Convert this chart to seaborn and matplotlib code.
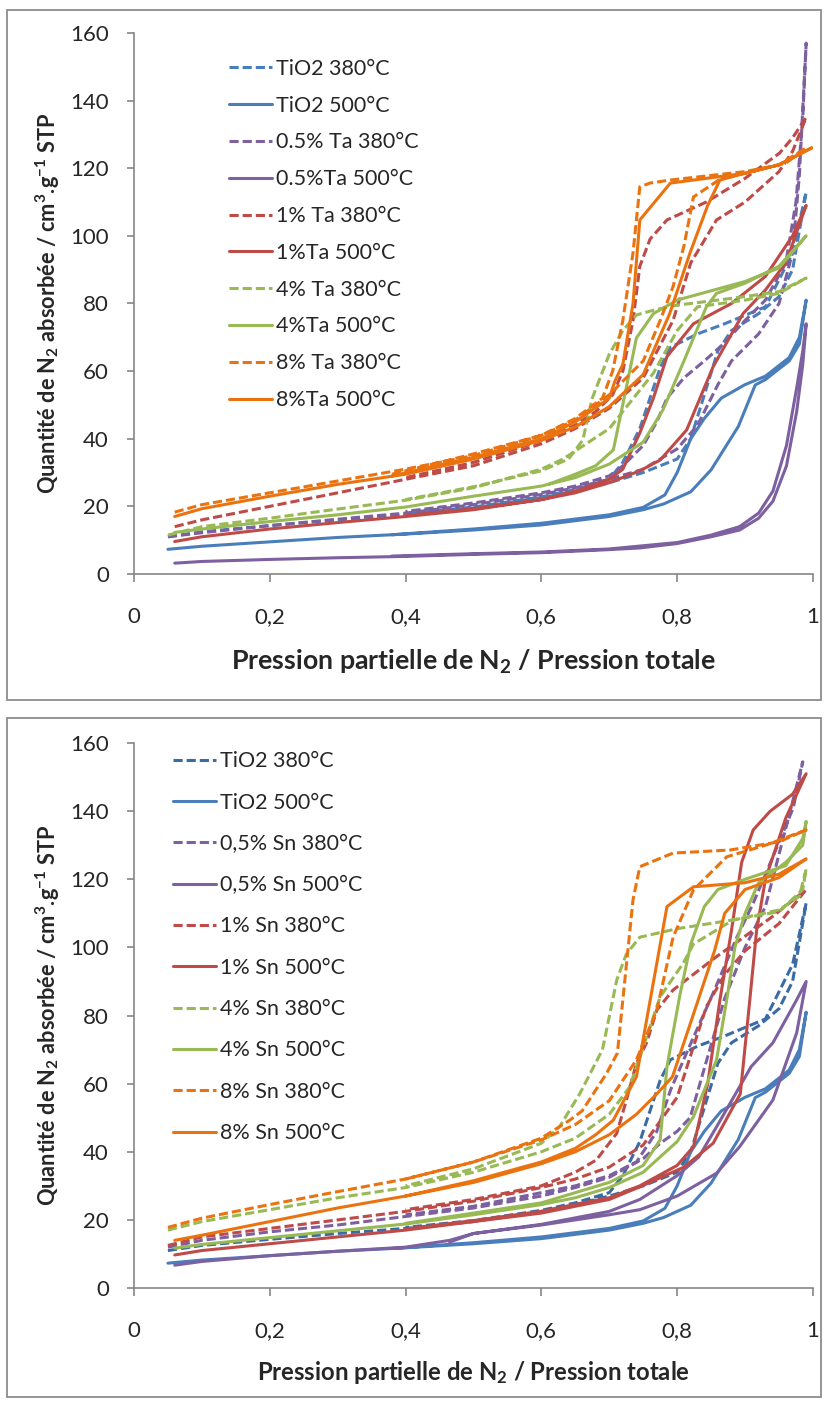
import matplotlib
matplotlib.use("Agg")
import matplotlib.pyplot as plt
from matplotlib.patches import Rectangle
import seaborn as sns

# ============ Data : TiO2 reference (same in both panels) ============
tio2_380_p = [0.05, 0.1, 0.2, 0.3, 0.4, 0.5, 0.6, 0.65, 0.7, 0.75, 0.8, 0.82, 0.84, 0.86, 0.88, 0.92, 0.95, 0.97, 0.99,
              0.97, 0.93, 0.87, 0.83, 0.79, 0.775, 0.76, 0.745, 0.72, 0.7, 0.65, 0.6, 0.5, 0.4]
tio2_380_v = [11, 12.5, 14.3, 16, 17.5, 19.5, 22.5, 24.5, 27, 30, 34, 40, 53, 66, 72, 77, 82, 90, 113,
              95, 79, 74, 71, 67, 61, 52, 43, 33, 28, 25, 22.8, 19.8, 17.8]
tio2_500_p = [0.05, 0.1, 0.2, 0.3, 0.4, 0.5, 0.6, 0.7, 0.75, 0.78, 0.82, 0.85, 0.89, 0.915, 0.93, 0.965, 0.98, 0.99,
              0.98, 0.965, 0.93, 0.9, 0.865, 0.84, 0.82, 0.8, 0.782, 0.75, 0.7, 0.6, 0.5, 0.38]
tio2_500_v = [7.3, 8.2, 9.5, 10.8, 11.8, 13, 14.5, 17, 19, 20.7, 24.3, 30.8, 43.6, 55.9, 57.5, 63, 68, 81,
              70, 64, 58.5, 56, 52, 46, 40, 30, 23.4, 19.7, 17.5, 15, 13.3, 11.6]

# ============ Data : Ta doped (top panel) ============
ta05_380_p = [0.05, 0.1, 0.2, 0.3, 0.4, 0.5, 0.6, 0.65, 0.7, 0.75, 0.8, 0.83, 0.86, 0.88, 0.92, 0.95, 0.97, 0.98, 0.99,
              0.985, 0.975, 0.96, 0.93, 0.9, 0.868, 0.84, 0.81, 0.785, 0.77, 0.75, 0.72, 0.7, 0.65, 0.6, 0.5, 0.4]
ta05_380_v = [11, 12.2, 14.3, 16.2, 18, 20.5, 23.5, 25.5, 28, 31, 37, 44, 56, 63, 71, 80, 95, 118, 157,
              135, 110, 92, 81, 75, 68, 63, 58, 52, 45, 38, 32, 29, 26, 24, 21, 18.5]
ta05_500_p = [0.06, 0.1, 0.2, 0.3, 0.4, 0.5, 0.6, 0.7, 0.745, 0.8, 0.85, 0.892, 0.92, 0.941, 0.961, 0.976, 0.985, 0.99,
              0.985, 0.976, 0.961, 0.941, 0.92, 0.892, 0.85, 0.8, 0.7, 0.6, 0.5, 0.38]
ta05_500_v = [3.2, 3.7, 4.3, 4.8, 5.2, 5.8, 6.3, 7.2, 7.7, 9, 11, 13, 16.5, 21.5, 32, 48, 62, 74,
              66, 55, 38, 24.5, 18, 14, 11.5, 9.3, 7.4, 6.5, 6, 5.3]
ta1_380_p = [0.06, 0.1, 0.2, 0.3, 0.4, 0.5, 0.6, 0.65, 0.7, 0.75, 0.794, 0.82, 0.858, 0.9, 0.95, 0.97, 0.99,
             0.97, 0.951, 0.9, 0.843, 0.785, 0.76, 0.745, 0.735, 0.72, 0.705, 0.68, 0.65, 0.6, 0.5, 0.4]
ta1_380_v = [14, 16, 20, 24, 28, 32, 38.5, 43, 49, 58, 75, 92, 104.7, 110, 119, 125, 135,
             129, 124.5, 117, 110, 104.7, 99, 91, 75, 60, 53, 48, 44, 39.5, 33, 28.5]
ta1_500_p = [0.06, 0.1, 0.2, 0.3, 0.4, 0.5, 0.6, 0.65, 0.7, 0.745, 0.775, 0.814, 0.853, 0.897, 0.93, 0.96, 0.99,
             0.97, 0.93, 0.88, 0.824, 0.785, 0.765, 0.745, 0.72, 0.7, 0.65, 0.6, 0.5, 0.4]
ta1_500_v = [9.6, 11, 13.3, 15.2, 17, 19, 22, 24, 27, 30.5, 33.7, 42.6, 61.3, 77, 84, 92, 109,
             100, 88, 80, 74, 64.3, 52, 41.7, 31, 28, 24.5, 22, 19.3, 17.3]
ta4_380_p = [0.05, 0.1, 0.2, 0.3, 0.4, 0.5, 0.6, 0.632, 0.7, 0.765, 0.8, 0.83, 0.9, 0.95, 0.99,
             0.95, 0.88, 0.8, 0.765, 0.74, 0.72, 0.7, 0.675, 0.661, 0.64, 0.6, 0.5, 0.4]
ta4_380_v = [11.5, 14, 16.5, 19.2, 21.8, 25.5, 31, 34, 43, 59.4, 72, 79, 81, 83, 87.5,
             83.5, 81.5, 79.5, 78, 76.6, 72, 65, 52, 39.6, 34, 30.5, 25.8, 22]
ta4_500_p = [0.06, 0.1, 0.2, 0.3, 0.4, 0.5, 0.6, 0.65, 0.7, 0.75, 0.779, 0.81, 0.843, 0.858, 0.9, 0.95, 0.99,
             0.95, 0.9, 0.8, 0.765, 0.74, 0.725, 0.706, 0.68, 0.65, 0.61]
ta4_500_v = [12.3, 13.3, 15.5, 17.5, 19.8, 23, 26, 28.5, 32.5, 39, 48.5, 63, 79, 83, 86, 91, 100,
             90.5, 86.5, 81, 77, 69.8, 55, 36.7, 32, 29.5, 26.5]
ta8_380_p = [0.06, 0.1, 0.2, 0.3, 0.4, 0.5, 0.6, 0.65, 0.7, 0.75, 0.775, 0.794, 0.81, 0.824, 0.868, 0.92, 0.96, 0.99,
             0.95, 0.9, 0.79, 0.76, 0.745, 0.735, 0.72, 0.705, 0.69, 0.65, 0.6, 0.5, 0.38]
ta8_380_v = [18.3, 20.5, 24, 27.5, 31, 35, 41, 45.5, 53, 63, 75, 85, 97, 111.5, 117.4, 119.5, 121.5, 126,
             121, 119, 116.5, 115.6, 114.5, 95, 75, 60, 52, 46, 41, 35.5, 29.5]
ta8_500_p = [0.06, 0.1, 0.2, 0.3, 0.4, 0.5, 0.6, 0.65, 0.7, 0.75, 0.789, 0.819, 0.845, 0.863, 0.9, 0.95, 0.998,
             0.95, 0.9, 0.79, 0.745, 0.735, 0.72, 0.708, 0.7, 0.65, 0.6, 0.5, 0.38]
ta8_500_v = [17, 19.3, 23, 26.5, 29.5, 34, 39.5, 43.5, 49.5, 59, 77, 95, 109, 116.5, 118.5, 121, 126,
             121, 118.5, 115.6, 104.7, 80, 62, 56.9, 52, 45, 40, 34.5, 29]

# ============ Data : Sn doped (bottom panel) ============
sn05_380_p = [0.05, 0.1, 0.2, 0.3, 0.4, 0.5, 0.6, 0.65, 0.7, 0.75, 0.775, 0.8, 0.819, 0.848, 0.87, 0.9, 0.93, 0.96, 0.985,
              0.971, 0.941, 0.912, 0.888, 0.853, 0.816, 0.79, 0.77, 0.74, 0.7, 0.65, 0.6, 0.5, 0.4]
sn05_380_v = [12, 14, 16.5, 18.5, 21, 23.5, 27, 29.5, 32.5, 38, 42.5, 46, 50, 70, 85, 100, 112, 135, 154.5,
              141, 126.6, 113, 103, 86.6, 70, 58, 46, 37, 33, 30, 28, 24, 21.5]
sn05_500_p = [0.06, 0.1, 0.2, 0.3, 0.4, 0.465, 0.5, 0.6, 0.7, 0.745, 0.8, 0.858, 0.892, 0.941, 0.976, 0.99,
              0.976, 0.941, 0.909, 0.86, 0.832, 0.8, 0.745, 0.7, 0.6, 0.5, 0.465]
sn05_500_v = [6.7, 7.8, 9.5, 10.8, 12, 14, 16, 18.5, 21.5, 23, 27, 33.7, 41.5, 55.2, 74.9, 90,
              84.6, 72, 65, 48, 38.5, 33, 26, 22.5, 18.7, 16, 13.5]
sn1_380_p = [0.05, 0.1, 0.2, 0.3, 0.4, 0.5, 0.6, 0.65, 0.7, 0.75, 0.8, 0.843, 0.87, 0.9, 0.95, 0.99,
             0.94, 0.858, 0.794, 0.77, 0.755, 0.74, 0.725, 0.711, 0.681, 0.65, 0.6, 0.5, 0.4]
sn1_380_v = [12.5, 15, 17.5, 20, 22.5, 25.5, 29.5, 32, 35.5, 42, 56, 82.6, 92, 99, 107, 117,
             109, 97.3, 87.5, 81.6, 72, 66, 55, 45.4, 37.6, 34, 30, 26, 23]
sn1_500_p = [0.06, 0.1, 0.2, 0.3, 0.4, 0.5, 0.6, 0.7, 0.745, 0.81, 0.853, 0.893, 0.907, 0.917, 0.93, 0.96, 0.99,
             0.97, 0.937, 0.912, 0.895, 0.88, 0.863, 0.845, 0.824, 0.8, 0.745, 0.7, 0.6, 0.5, 0.4]
sn1_500_v = [9.7, 11, 13, 15, 17, 19.5, 22, 26, 29.7, 35.5, 42.5, 57, 84.6, 105, 120, 138, 151,
             145, 140, 134.5, 125, 105, 84.6, 60, 41.5, 36, 30, 26.5, 22.5, 19.8, 17.3]
sn4_380_p = [0.05, 0.1, 0.2, 0.3, 0.4, 0.5, 0.6, 0.65, 0.7, 0.73, 0.775, 0.809, 0.824, 0.882, 0.95, 0.98, 0.99,
             0.985, 0.95, 0.88, 0.8, 0.745, 0.725, 0.711, 0.69, 0.657, 0.627, 0.6, 0.5, 0.4]
sn4_380_v = [17, 19.5, 23, 26.5, 29.5, 34, 40, 44, 51, 59, 85.5, 95.4, 101, 108, 111, 115, 123,
             117, 110.5, 108, 105.5, 103, 98, 90.4, 70, 57.2, 47.4, 42.5, 35, 30]
sn4_500_p = [0.06, 0.1, 0.2, 0.3, 0.4, 0.5, 0.6, 0.65, 0.7, 0.75, 0.8, 0.824, 0.858, 0.873, 0.885, 0.9, 0.92, 0.96, 0.985, 0.99,
             0.985, 0.96, 0.9, 0.86, 0.84, 0.82, 0.804, 0.794, 0.785, 0.775, 0.75, 0.7, 0.6, 0.5, 0.4]
sn4_500_v = [11.7, 12.8, 14.8, 16.8, 18.8, 21.5, 24.5, 26.5, 29.5, 34, 43, 50.3, 67, 84.6, 100, 110, 119, 125, 130, 137,
             132, 124, 120, 117, 112, 101, 86, 75, 65, 43.5, 36, 31, 25, 22, 19]
sn8_380_p = [0.05, 0.1, 0.2, 0.3, 0.4, 0.5, 0.6, 0.65, 0.7, 0.74, 0.76, 0.77, 0.794, 0.824, 0.873, 0.93, 0.99,
             0.95, 0.878, 0.794, 0.745, 0.735, 0.712, 0.696, 0.66, 0.642, 0.6, 0.5, 0.4]
sn8_380_v = [17.8, 20.5, 24.5, 28.3, 32, 37, 43.5, 48, 55, 67, 76.7, 81.6, 103, 116.9, 126.6, 130, 134.5,
             131, 128.6, 127.7, 123.7, 114, 69, 63, 52, 49.3, 44, 37, 32]
sn8_500_p = [0.06, 0.1, 0.2, 0.3, 0.4, 0.5, 0.6, 0.65, 0.7, 0.74, 0.77, 0.793, 0.82, 0.855, 0.87, 0.9, 0.95, 0.99,
             0.95, 0.9, 0.824, 0.785, 0.74, 0.706, 0.68, 0.65, 0.6, 0.5, 0.4]
sn8_500_v = [14, 15.5, 19.5, 23.5, 27, 31, 36.5, 40, 45, 51, 57, 62, 78, 99, 110, 117, 120.5, 126,
             121.5, 119, 117.8, 112, 62, 49.3, 45, 41, 37, 31.5, 27]

x_ticks = [0, 0.2, 0.4, 0.6, 0.8, 1]
x_ticklabels = ["0", "0,2", "0,4", "0,6", "0,8", "1"]
y_ticks = [0, 20, 40, 60, 80, 100, 120, 140, 160]

# ============ Styles ============
BLUE, BLUE_D = "#4A7EBB", "#3A6BA5"
PURPLE, RED, GREEN, ORANGE = "#7D60A0", "#BE4B48", "#98B954", "#EB730F"
DASH = (0, (3.0, 1.3))
SOLID = "-"

top_series = [
    ("TiO2 380°C", tio2_380_p, tio2_380_v, BLUE, DASH),
    ("TiO2 500°C", tio2_500_p, tio2_500_v, BLUE, SOLID),
    ("0.5% Ta 380°C", ta05_380_p, ta05_380_v, PURPLE, DASH),
    ("0.5%Ta 500°C", ta05_500_p, ta05_500_v, PURPLE, SOLID),
    ("1% Ta 380°C", ta1_380_p, ta1_380_v, RED, DASH),
    ("1%Ta 500°C", ta1_500_p, ta1_500_v, RED, SOLID),
    ("4% Ta 380°C", ta4_380_p, ta4_380_v, GREEN, DASH),
    ("4%Ta 500°C", ta4_500_p, ta4_500_v, GREEN, SOLID),
    ("8% Ta 380°C", ta8_380_p, ta8_380_v, ORANGE, DASH),
    ("8%Ta 500°C", ta8_500_p, ta8_500_v, ORANGE, SOLID),
]
bottom_series = [
    ("TiO2 380°C", tio2_380_p, tio2_380_v, BLUE_D, DASH),
    ("TiO2 500°C", tio2_500_p, tio2_500_v, BLUE, SOLID),
    ("0,5% Sn 380°C", sn05_380_p, sn05_380_v, PURPLE, DASH),
    ("0,5% Sn 500°C", sn05_500_p, sn05_500_v, PURPLE, SOLID),
    ("1% Sn 380°C", sn1_380_p, sn1_380_v, RED, DASH),
    ("1% Sn 500°C", sn1_500_p, sn1_500_v, RED, SOLID),
    ("4% Sn 380°C", sn4_380_p, sn4_380_v, GREEN, DASH),
    ("4% Sn 500°C", sn4_500_p, sn4_500_v, GREEN, SOLID),
    ("8% Sn 380°C", sn8_380_p, sn8_380_v, ORANGE, DASH),
    ("8% Sn 500°C", sn8_500_p, sn8_500_v, ORANGE, SOLID),
]

# ============ font style ============
sns.set_style("white")
plt.rcParams['font.family'] = ['Lato', 'DejaVu Sans']
plt.rcParams['mathtext.fontset'] = 'custom'
plt.rcParams['mathtext.rm'] = 'Lato'
plt.rcParams['mathtext.bf'] = 'Lato:bold'
plt.rcParams['mathtext.default'] = 'bf'

fig = plt.figure(figsize=(8.24, 14.02), dpi=100)
ax_top = fig.add_axes([0.1626, 0.5906, 0.8240, 0.3859])
ax_bot = fig.add_axes([0.1626, 0.0813, 0.8240, 0.3887])

# frames around each panel
for (y0, y1) in [(10, 700), (718, 1397)]:
    fig.add_artist(Rectangle((7 / 824, 1 - y1 / 1402), 814 / 824, (y1 - y0) / 1402,
                             transform=fig.transFigure, fill=False, ec="#8c8c8c", lw=1.3))


def draw(ax, series, leg_x, leg_y, spacing, xl_size, xl_pad):
    for label, p, v, color, ls in series:
        sns.lineplot(x=p, y=v, ax=ax, sort=False, estimator=None, color=color,
                     linestyle=ls, linewidth=2.2, label=label)
    ax.set_xlim(0, 1)
    ax.set_ylim(0, 160)
    ax.set_xticks(x_ticks)
    ax.set_xticklabels(x_ticklabels)
    ax.set_yticks(y_ticks)
    for side in ["top", "right"]:
        ax.spines[side].set_visible(False)
    for side in ["left", "bottom"]:
        ax.spines[side].set_color("#868686")
        ax.spines[side].set_linewidth(1.2)
    ax.tick_params(axis="x", direction="out", length=6, width=1.2, color="#868686",
                   labelsize=16, pad=18, bottom=True)
    ax.tick_params(axis="y", direction="out", length=5, width=1.2, color="#868686",
                   labelsize=16, pad=13, left=True)
    ax.set_xlabel(r"Pression partielle de N$_{2}$ / Pression totale",
                  fontsize=xl_size, fontweight="bold", labelpad=xl_pad)
    ax.set_ylabel(r"Quantité de N$_{2}$ absorbée / cm$^{3}$.g$^{-1}$ STP",
                  fontsize=15.7, fontweight="bold", labelpad=6)
    ax.legend(loc="upper left", bbox_to_anchor=(leg_x, leg_y), frameon=False,
              fontsize=15.5, handlelength=2.0, handletextpad=0.2, labelspacing=spacing,
              borderpad=0, borderaxespad=0)


draw(ax_top, top_series, 0.14, 0.952, 0.78, 19.3, 15)
draw(ax_bot, bottom_series, 0.057, 0.985, 0.99, 17.2, 13)

fig.savefig("out.png", dpi=100)
